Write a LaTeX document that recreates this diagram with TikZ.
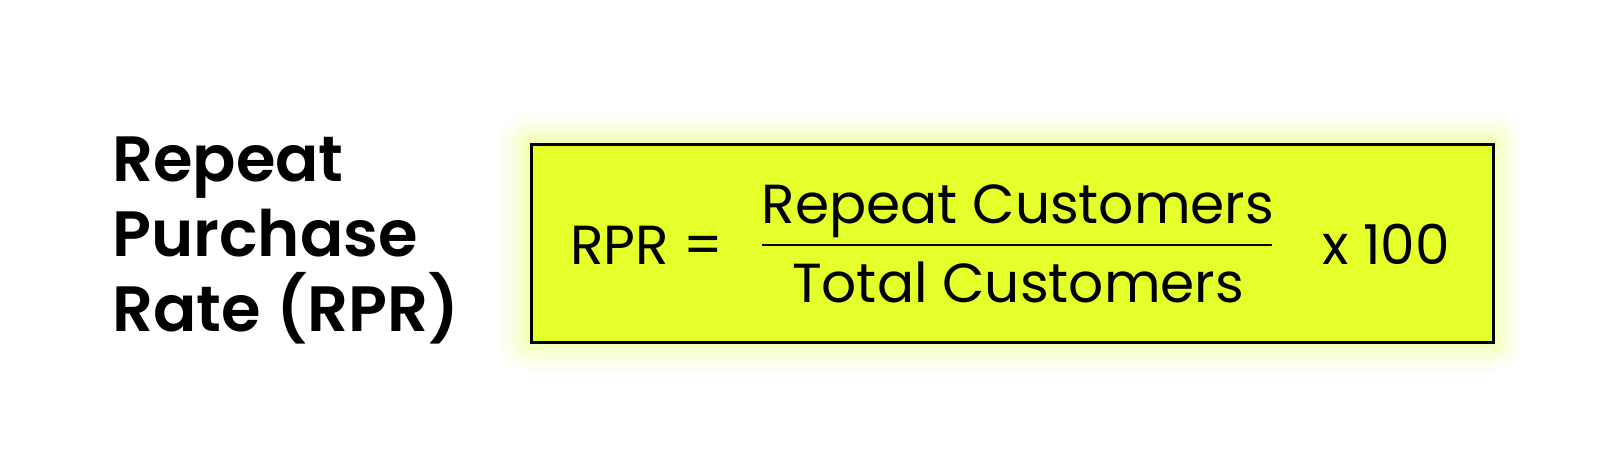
\documentclass[tikz,border=0pt]{standalone}
\usepackage{fontspec}
\setmainfont{Poppins}
\newfontfamily\semibf{Poppins SemiBold}
\definecolor{lime}{HTML}{E5FF2A}
\begin{document}
\begin{tikzpicture}[x=1pt,y=-1pt,
  title/.style={anchor=base west,font=\fontsize{64}{66}\semibf,inner sep=0},
  formula/.style={anchor=base,font=\fontsize{55}{58}\selectfont,inner sep=0}]
\fill[white] (0,0) rectangle (1600,466);
\foreach \d/\o in {30/0.04,24/0.05,18/0.07,12/0.09,6/0.12}
  \fill[lime,opacity=\o,rounded corners=\d pt] (530-\d,143-\d) rectangle (1492+\d,341+\d);
\node[draw=black,line width=3pt,fill=lime,minimum width=962pt,minimum height=198pt,inner sep=0,anchor=north west] (box) at (530,143) {};
\node[title] (t1) at (112,181) {Repeat};
\node[title] (t2) at (112,256) {Purchase};
\node[title] (t3) at (112,331) {Rate (RPR)};
\node[formula,anchor=base west] (rpr) at (570,264) {RPR\ =};
\node[formula] (num) at (1018,223) {Repeat Customers};
\node[formula] (den) at (1018,302) {Total Customers};
\coordinate (l1) at (762,245); \coordinate (l2) at (1272,245);
\draw[line width=2.5pt] (l1) -- (l2);
\node[formula,anchor=base west] (x) at (1322,264) {x 100};
\pgfresetboundingbox
\useasboundingbox (0,0) rectangle (1600,466);
\end{tikzpicture}
\end{document}
